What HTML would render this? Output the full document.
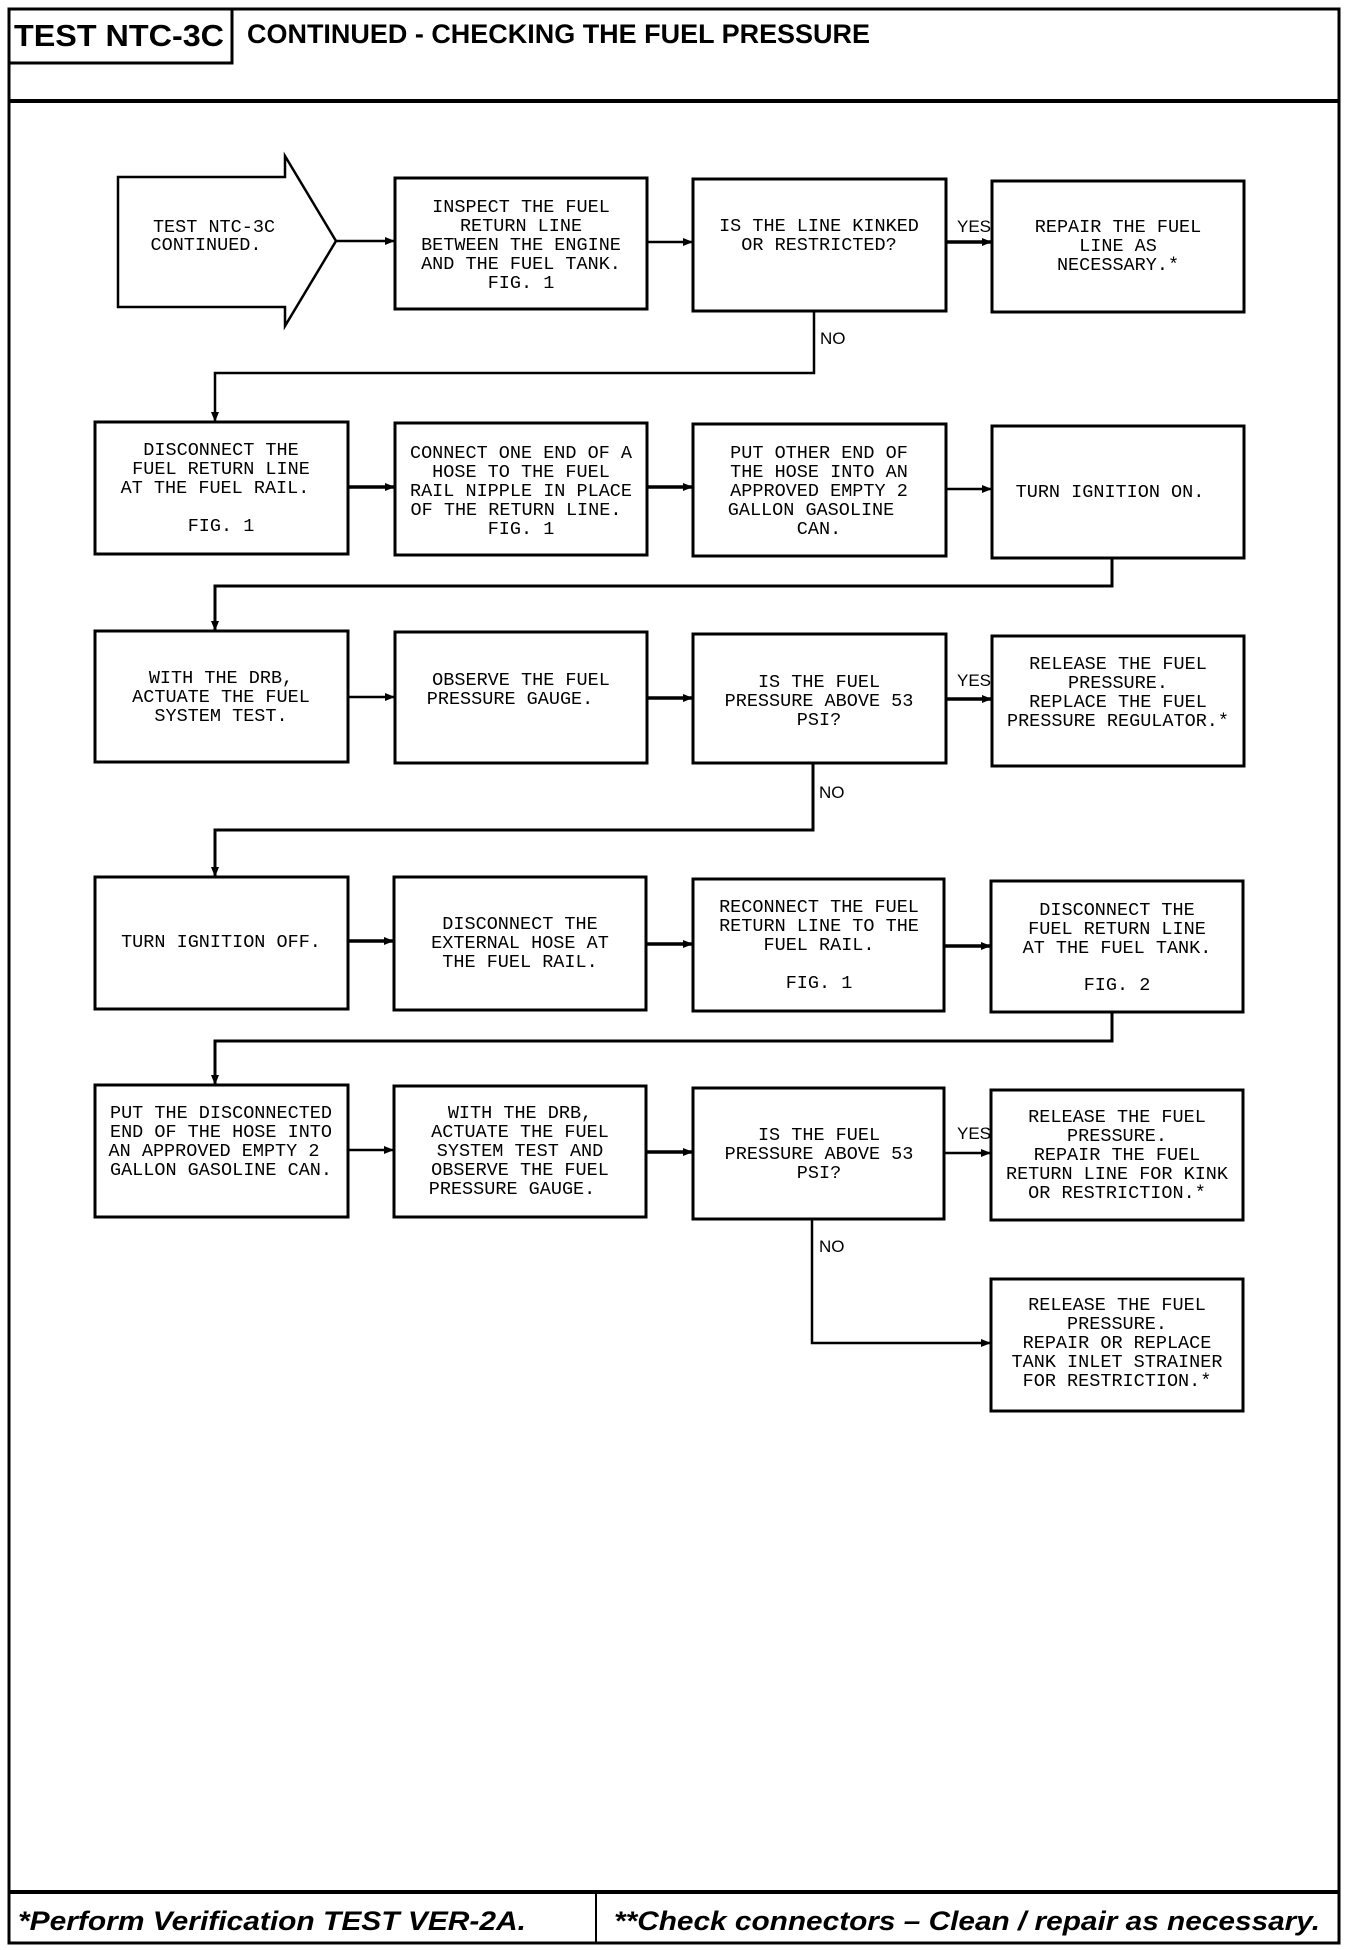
<!DOCTYPE html>
<html><head><meta charset="utf-8"><style>html,body{margin:0;padding:0;background:#fff}svg{display:block}</style></head>
<body>
<svg width="1360" height="1950" viewBox="0 0 1360 1950" xmlns="http://www.w3.org/2000/svg">
<defs>
<marker id="ah" markerWidth="10" markerHeight="8" refX="9" refY="4" orient="auto" markerUnits="userSpaceOnUse">
<path d="M0,0 L10,4 L0,8 z" fill="#000"/>
</marker>
</defs>
<g fill="none" stroke="#000">
<!-- frame -->
<rect x="9" y="9" width="1330" height="1934" stroke-width="3"/>
<line x1="9" y1="101" x2="1339" y2="101" stroke-width="4"/>
<rect x="9" y="9" width="223" height="54" stroke-width="3"/>
<line x1="9" y1="1892" x2="1339" y2="1892" stroke-width="4"/>
<line x1="596" y1="1892" x2="596" y2="1943" stroke-width="2"/>

<!-- arrow start -->
<polygon points="118,177 285,177 285,156 336,241 285,326 285,307 118,307" stroke-width="2.5"/>

<g stroke-width="3">
<!-- row1 -->
<rect x="395" y="178" width="252" height="131"/>
<rect x="693" y="179" width="253" height="132"/>
<rect x="992" y="181" width="252" height="131"/>
<!-- row2 -->
<rect x="95" y="422" width="253" height="132"/>
<rect x="395" y="423" width="252" height="132"/>
<rect x="693" y="424" width="253" height="132"/>
<rect x="992" y="426" width="252" height="132"/>
<!-- row3 -->
<rect x="95" y="631" width="253" height="131"/>
<rect x="395" y="632" width="252" height="131"/>
<rect x="693" y="634" width="253" height="129"/>
<rect x="992" y="636" width="252" height="130"/>
<!-- row4 -->
<rect x="95" y="877" width="253" height="132"/>
<rect x="394" y="877" width="252" height="133"/>
<rect x="693" y="879" width="251" height="132"/>
<rect x="991" y="881" width="252" height="131"/>
<!-- row5 -->
<rect x="95" y="1085" width="253" height="132"/>
<rect x="394" y="1086" width="252" height="131"/>
<rect x="693" y="1088" width="251" height="131"/>
<rect x="991" y="1090" width="252" height="130"/>
<!-- row6 -->
<rect x="991" y="1279" width="252" height="132"/>
</g>

<g stroke-width="2.5">
<!-- horizontal arrows -->
<line x1="336" y1="241" x2="394" y2="241" marker-end="url(#ah)"/>
<line x1="647" y1="242" x2="692" y2="242" marker-end="url(#ah)"/>
<line x1="946" y1="242" x2="991" y2="242" marker-end="url(#ah)" stroke-width="3.5"/>
<line x1="348" y1="487" x2="394" y2="487" marker-end="url(#ah)" stroke-width="3.5"/>
<line x1="647" y1="487" x2="692" y2="487" marker-end="url(#ah)" stroke-width="3.5"/>
<line x1="946" y1="489" x2="991" y2="489" marker-end="url(#ah)"/>
<line x1="348" y1="697" x2="394" y2="697" marker-end="url(#ah)"/>
<line x1="647" y1="698" x2="692" y2="698" marker-end="url(#ah)" stroke-width="3.5"/>
<line x1="946" y1="699" x2="991" y2="699" marker-end="url(#ah)" stroke-width="3.5"/>
<line x1="348" y1="941" x2="393" y2="941" marker-end="url(#ah)" stroke-width="3.5"/>
<line x1="646" y1="944" x2="692" y2="944" marker-end="url(#ah)" stroke-width="3.5"/>
<line x1="944" y1="946" x2="990" y2="946" marker-end="url(#ah)" stroke-width="3.5"/>
<line x1="348" y1="1150" x2="393" y2="1150" marker-end="url(#ah)"/>
<line x1="646" y1="1152" x2="692" y2="1152" marker-end="url(#ah)" stroke-width="3.5"/>
<line x1="944" y1="1153" x2="990" y2="1153" marker-end="url(#ah)"/>

<!-- elbow connectors -->
<polyline points="814,311 814,373 215,373 215,421" marker-end="url(#ah)"/>
<polyline points="1112,558 1112,586 215,586 215,630" marker-end="url(#ah)" stroke-width="3"/>
<polyline points="813,763 813,830 215,830 215,876" marker-end="url(#ah)" stroke-width="3"/>
<polyline points="1112,1012 1112,1041 215,1041 215,1084" marker-end="url(#ah)" stroke-width="3"/>
<polyline points="812,1219 812,1343 990,1343" marker-end="url(#ah)"/>
</g>
</g>

<!-- header text -->
<g font-family="'Liberation Sans', sans-serif" font-weight="bold" fill="#000">
<text x="14" y="46" font-size="31" textLength="210" lengthAdjust="spacingAndGlyphs">TEST NTC-3C</text>
<text x="247" y="43" font-size="27" textLength="623" lengthAdjust="spacingAndGlyphs">CONTINUED -  CHECKING THE FUEL PRESSURE</text>
<text x="18" y="1930" font-size="27" font-style="italic" textLength="508" lengthAdjust="spacingAndGlyphs">*Perform Verification TEST VER-2A.</text>
<text x="614" y="1930" font-size="27" font-style="italic" textLength="706" lengthAdjust="spacingAndGlyphs">**Check connectors – Clean / repair as necessary.</text>
</g>

<!-- box text -->
<g font-family="'Liberation Mono', monospace" font-size="18.5" fill="#000" text-anchor="middle">
<text x="214" y="232">TEST NTC-3C</text>
<text x="206" y="250">CONTINUED.</text>

<text x="521" y="212">INSPECT THE FUEL</text>
<text x="521" y="231">RETURN LINE</text>
<text x="521" y="250">BETWEEN THE ENGINE</text>
<text x="521" y="269">AND THE FUEL TANK.</text>
<text x="521" y="288">FIG. 1</text>

<text x="819" y="231">IS THE LINE KINKED</text>
<text x="819" y="250">OR RESTRICTED?</text>
<text x="1118" y="232">REPAIR THE FUEL</text>
<text x="1118" y="251">LINE AS</text>
<text x="1118" y="270">NECESSARY.*</text>

<text x="221" y="455">DISCONNECT THE</text>
<text x="221" y="474">FUEL RETURN LINE</text>
<text x="215" y="493">AT THE FUEL RAIL.</text>
<text x="221" y="531">FIG. 1</text>

<text x="521" y="458">CONNECT ONE END OF A</text>
<text x="521" y="477">HOSE TO THE FUEL</text>
<text x="521" y="496">RAIL NIPPLE IN PLACE</text>
<text x="516" y="515">OF THE RETURN LINE.</text>
<text x="521" y="534">FIG. 1</text>

<text x="819" y="458">PUT OTHER END OF</text>
<text x="819" y="477">THE HOSE INTO AN</text>
<text x="819" y="496">APPROVED EMPTY 2</text>
<text x="811" y="515">GALLON GASOLINE</text>
<text x="819" y="534">CAN.</text>

<text x="1110" y="497">TURN IGNITION ON.</text>

<text x="221" y="683">WITH THE DRB,</text>
<text x="221" y="702">ACTUATE THE FUEL</text>
<text x="221" y="721">SYSTEM TEST.</text>

<text x="521" y="685">OBSERVE THE FUEL</text>
<text x="510" y="704">PRESSURE GAUGE.</text>

<text x="819" y="687">IS THE FUEL</text>
<text x="819" y="706">PRESSURE ABOVE 53</text>
<text x="819" y="725">PSI?</text>

<text x="1118" y="669">RELEASE THE FUEL</text>
<text x="1118" y="688">PRESSURE.</text>
<text x="1118" y="707">REPLACE THE FUEL</text>
<text x="1118" y="726">PRESSURE REGULATOR.*</text>

<text x="221" y="947">TURN IGNITION OFF.</text>

<text x="520" y="929">DISCONNECT THE</text>
<text x="520" y="948">EXTERNAL HOSE AT</text>
<text x="520" y="967">THE FUEL RAIL.</text>

<text x="819" y="912">RECONNECT THE FUEL</text>
<text x="819" y="931">RETURN LINE TO THE</text>
<text x="819" y="950">FUEL RAIL.</text>
<text x="819" y="988">FIG. 1</text>

<text x="1117" y="915">DISCONNECT THE</text>
<text x="1117" y="934">FUEL RETURN LINE</text>
<text x="1117" y="953">AT THE FUEL TANK.</text>
<text x="1117" y="990">FIG. 2</text>

<text x="221" y="1118">PUT THE DISCONNECTED</text>
<text x="221" y="1137">END OF THE HOSE INTO</text>
<text x="214" y="1156">AN APPROVED EMPTY 2</text>
<text x="221" y="1175">GALLON GASOLINE CAN.</text>

<text x="520" y="1118">WITH THE DRB,</text>
<text x="520" y="1137">ACTUATE THE FUEL</text>
<text x="520" y="1156">SYSTEM TEST AND</text>
<text x="520" y="1175">OBSERVE THE FUEL</text>
<text x="512" y="1194">PRESSURE GAUGE.</text>

<text x="819" y="1140">IS THE FUEL</text>
<text x="819" y="1159">PRESSURE ABOVE 53</text>
<text x="819" y="1178">PSI?</text>

<text x="1117" y="1122">RELEASE THE FUEL</text>
<text x="1117" y="1141">PRESSURE.</text>
<text x="1117" y="1160">REPAIR THE FUEL</text>
<text x="1117" y="1179">RETURN LINE FOR KINK</text>
<text x="1117" y="1198">OR RESTRICTION.*</text>

<text x="1117" y="1310">RELEASE THE FUEL</text>
<text x="1117" y="1329">PRESSURE.</text>
<text x="1117" y="1348">REPAIR OR REPLACE</text>
<text x="1117" y="1367">TANK INLET STRAINER</text>
<text x="1117" y="1386">FOR RESTRICTION.*</text>
</g>

<!-- YES/NO labels -->
<g font-family="'Liberation Sans', sans-serif" font-size="17" fill="#000">
<text x="957" y="232">YES</text>
<text x="957" y="686">YES</text>
<text x="957" y="1139">YES</text>
<text x="820" y="344">NO</text>
<text x="819" y="798">NO</text>
<text x="819" y="1252">NO</text>
</g>
</svg>
</body></html>
